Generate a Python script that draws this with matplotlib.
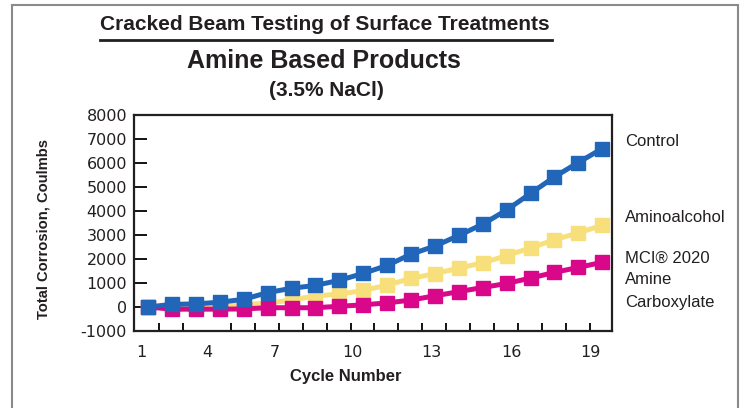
import matplotlib
matplotlib.use("Agg")
import matplotlib.pyplot as plt
from matplotlib.patches import Rectangle
from matplotlib.lines import Line2D
from matplotlib.ticker import FixedLocator, NullFormatter

# ---- data ----
cycles = list(range(1, 21))
control = [0, 110, 130, 200, 320, 600, 780, 900, 1110, 1400, 1730, 2200, 2540,
           2980, 3450, 4040, 4730, 5420, 6020, 6600]
aminoalcohol = [0, 20, 40, 60, 100, 160, 290, 465, 535, 690, 910, 1190, 1390,
                1620, 1840, 2140, 2460, 2800, 3090, 3400]
mci2020 = [0, -90, -90, -90, -80, -30, -30, -30, 30, 90, 170, 290, 465, 640,
           812, 980, 1205, 1440, 1650, 1860]
xtick_labels = ["1", "4", "7", "10", "13", "16", "19"]
xtick_pos = [0.71, 3.47, 6.31, 9.54, 12.84, 16.19, 19.49]
yticks = list(range(-1000, 8001, 1000))

BLUE = "#2166b8"
YELLOW = "#f7e07c"
MAGENTA = "#d9078a"

NARROW = ["Liberation Sans", "DejaVu Sans"]
TICKFONT = ["DejaVu Sans"]

fig = plt.figure(figsize=(7.48, 4.08), dpi=100)
W, H = 748, 408

def fx(px):
    return px / W

def fy(py):
    return 1 - py / H

ax = fig.add_axes([fx(134), fy(331), fx(612) - fx(134), fy(115) - fy(331)])

ax.plot(cycles, aminoalcohol, color=YELLOW, lw=3.6, marker="s", ms=10.5,
        mec=YELLOW, mfc=YELLOW, zorder=3)
ax.plot(cycles, mci2020, color=MAGENTA, lw=3.6, marker="s", ms=10.5,
        mec=MAGENTA, mfc=MAGENTA, zorder=4)
ax.plot(cycles, control, color=BLUE, lw=3.6, marker="s", ms=10.5,
        mec=BLUE, mfc=BLUE, zorder=5)

ax.set_xlim(0.41, 20.41)
ax.set_ylim(-1000, 8000)
ax.set_yticks(yticks)
ax.set_yticklabels([str(v) for v in yticks], family=TICKFONT, fontsize=11.5,
                   color="#231f20")
ax.tick_params(axis="y", direction="in", length=9, width=1.3, pad=5)

ax.xaxis.set_major_locator(FixedLocator(xtick_pos))
ax.set_xticklabels(xtick_labels, family=TICKFONT, fontsize=11.5, color="#231f20")
ax.tick_params(axis="x", which="major", length=0, pad=10)
ax.xaxis.set_minor_locator(FixedLocator([c + 0.47 for c in cycles[:-1]]))
ax.xaxis.set_minor_formatter(NullFormatter())
ax.tick_params(axis="x", which="minor", direction="in", length=6, width=1.3)

for s in ax.spines.values():
    s.set_linewidth(1.6)
    s.set_color("#231f20")

# labels
fig.text(fx(44), fy(229), "Total Corrosion, Coulmbs", rotation=90,
         ha="center", va="center", family=NARROW, fontweight="bold",
         fontsize=10.6, color="#231f20")
fig.text(fx(346), fy(377), "Cycle Number", ha="center", va="center",
         family=NARROW, fontweight="bold", fontsize=12, color="#231f20")

# titles
fig.text(fx(325), fy(24), "Cracked Beam Testing of Surface Treatments",
         ha="center", va="center", family=NARROW, fontweight="bold",
         fontsize=15, color="#231f20")
fig.add_artist(Line2D([fx(100), fx(552)], [fy(40), fy(40)], color="#231f20",
                      lw=2.0, transform=fig.transFigure))
fig.text(fx(324), fy(61), "Amine Based Products", ha="center", va="center",
         family=NARROW, fontweight="bold", fontsize=18, color="#231f20")
fig.text(fx(326), fy(90), "(3.5% NaCl)", ha="center", va="center",
         family=NARROW, fontweight="bold", fontsize=15, color="#231f20")

# series labels
lab_kw = dict(ha="left", va="center", family=NARROW, fontsize=12,
              color="#231f20")
fig.text(fx(625), fy(142), "Control", **lab_kw)
fig.text(fx(625), fy(217), "Aminoalcohol", **lab_kw)
fig.text(fx(625), fy(258), "MCI® 2020", **lab_kw)
fig.text(fx(625), fy(280), "Amine", **lab_kw)
fig.text(fx(625), fy(302), "Carboxylate", **lab_kw)

# outer frame
fig.add_artist(Rectangle((fx(12), fy(430)), fx(738) - fx(12), fy(5) - fy(430),
                         transform=fig.transFigure, fill=False,
                         edgecolor="#8a8a8a", lw=1.5, clip_on=False))

fig.savefig("out.png", dpi=100)
